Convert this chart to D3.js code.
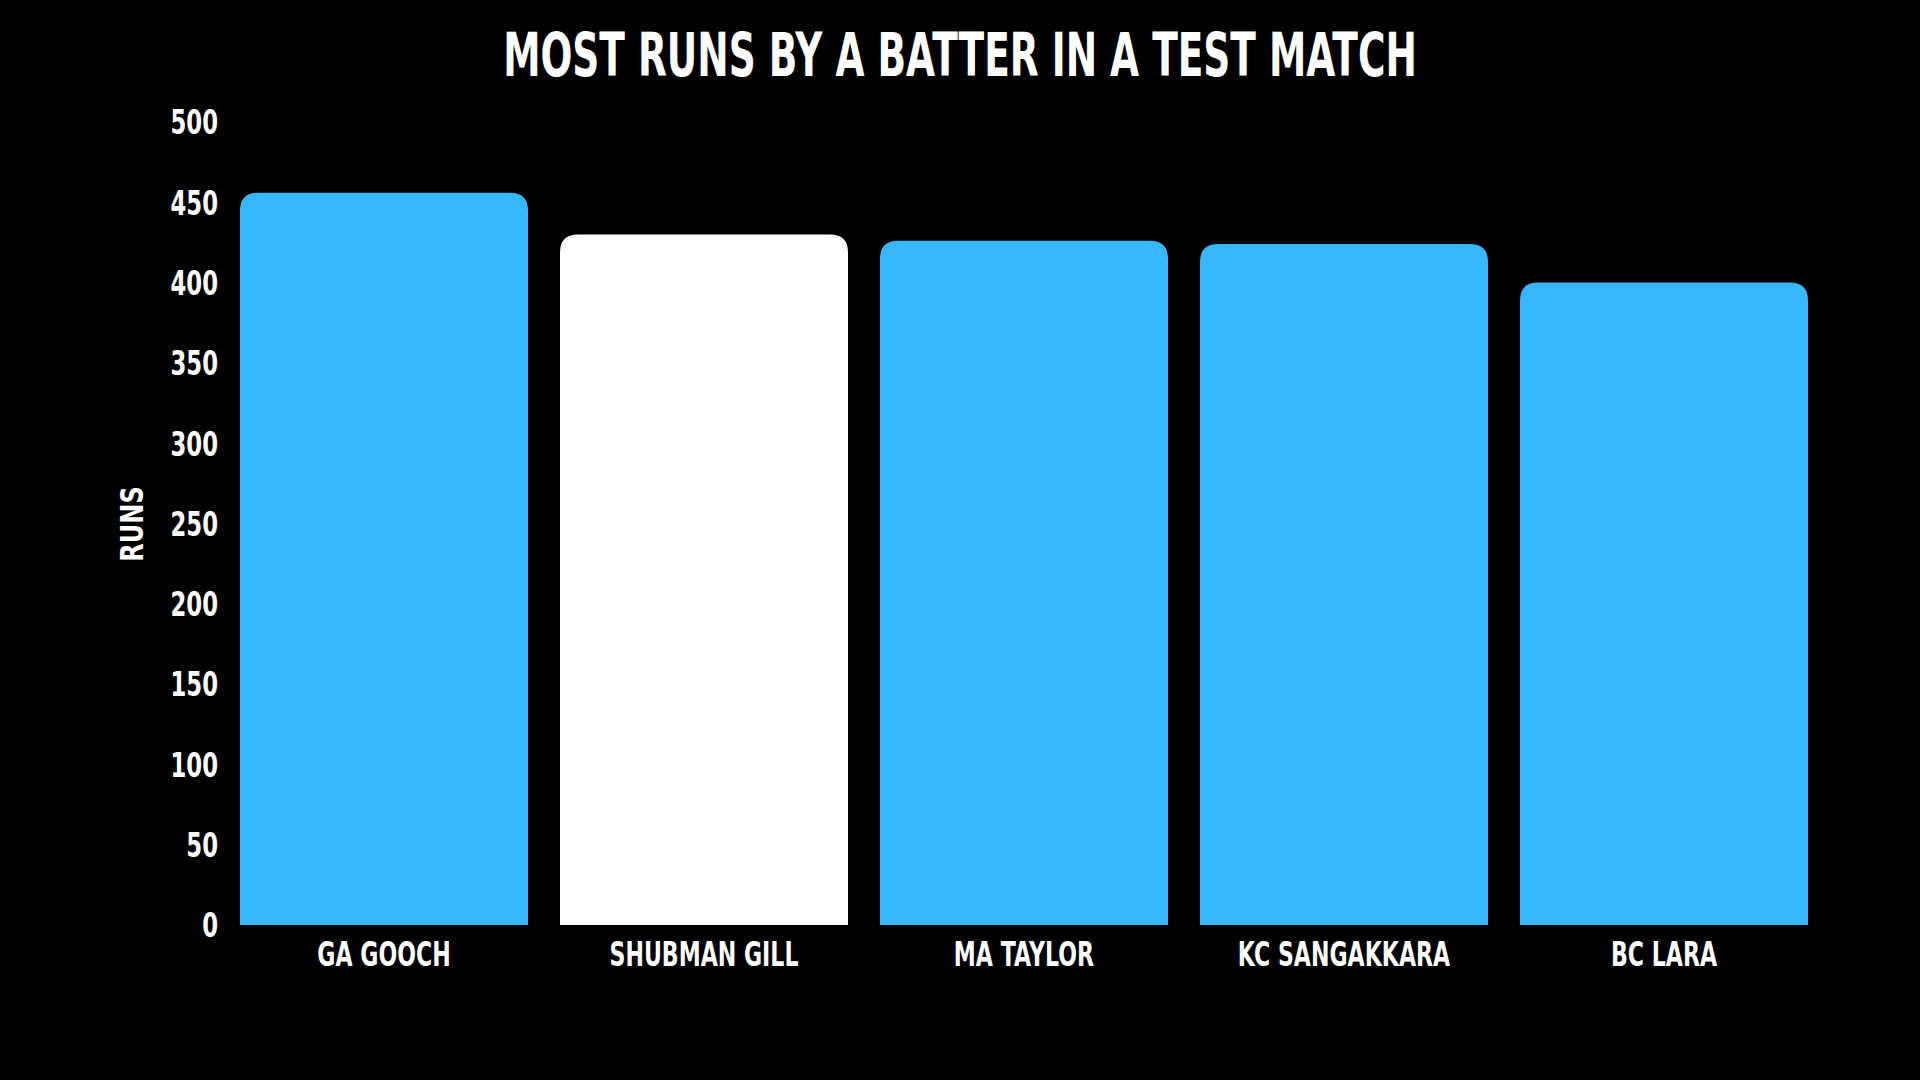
<!DOCTYPE html>
<html>
<head>
<meta charset="utf-8">
<script src="https://cdn.jsdelivr.net/npm/d3@7"></script>
<style>
  html, body { margin: 0; padding: 0; background: #000; }
  svg { display: block; }
  text { font-family: "DejaVu Sans", sans-serif; font-weight: bold; fill: #fff; }
</style>
</head>
<body>
<script>
const title = "MOST RUNS BY A BATTER IN A TEST MATCH";
const yAxisTitle = "RUNS";
const batters = ["GA GOOCH", "SHUBMAN GILL", "MA TAYLOR", "KC SANGAKKARA", "BC LARA"];
const runs = [456, 430, 426, 424, 400];
const highlight = ["SHUBMAN GILL"];
const yTicks = [0, 50, 100, 150, 200, 250, 300, 350, 400, 450, 500];

const W = 1920, H = 1080;
const svg = d3.select("body").append("svg").attr("width", W).attr("height", H);
svg.append("rect").attr("width", W).attr("height", H).attr("fill", "#000");

const x = d3.scaleBand().domain(batters).range([240, 1808]).paddingInner(0.1).paddingOuter(0);
const y = d3.scaleLinear().domain([0, 500]).range([925, 122]);

const data = batters.map((b, i) => ({ name: b, value: runs[i] }));
const r = 18;
function topRounded(x0, y0, w, h, rad) {
  return `M${x0},${y0 + h} L${x0},${y0 + rad} Q${x0},${y0} ${x0 + rad},${y0} L${x0 + w - rad},${y0} Q${x0 + w},${y0} ${x0 + w},${y0 + rad} L${x0 + w},${y0 + h} Z`;
}
svg.append("g").selectAll("path").data(data).join("path")
  .attr("d", d => topRounded(x(d.name), y(d.value), x.bandwidth(), y(0) - y(d.value), r))
  .attr("fill", d => highlight.includes(d.name) ? "#ffffff" : "#38b6ff");

// y axis
const yAxis = svg.append("g").attr("transform", "translate(218,0)")
  .call(d3.axisLeft(y).tickValues(yTicks).tickSize(0).tickPadding(0));
yAxis.select(".domain").remove();
yAxis.selectAll("text").attr("font-size", 33).attr("font-family", null).attr("fill", "#fff")
  .attr("x", 0).attr("dy", "0.36em").attr("transform", "scale(0.69,1)");

// x axis
const xAxis = svg.append("g").attr("transform", "translate(0,925)")
  .call(d3.axisBottom(x).tickSize(0).tickPadding(0));
xAxis.select(".domain").remove();
xAxis.selectAll("text").attr("font-size", 33).attr("font-family", null).attr("fill", "#fff")
  .attr("dy", null).attr("y", 41).attr("transform", "scale(0.67,1)");

// title
svg.append("text").attr("transform", "translate(960,76) scale(0.625,1)")
  .attr("text-anchor", "middle").attr("font-size", 60).text(title);

// y axis title
svg.append("text").attr("transform", "translate(143,524) rotate(-90) scale(0.75,1)")
  .attr("text-anchor", "middle").attr("font-size", 32).text(yAxisTitle);
</script>
</body>
</html>
